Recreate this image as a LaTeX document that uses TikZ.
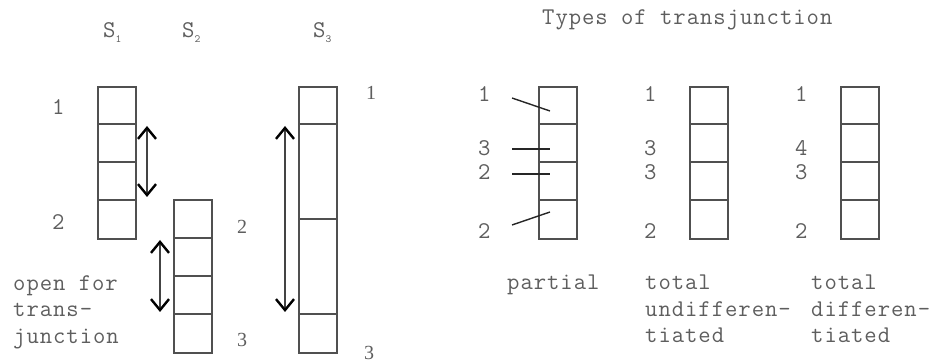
\documentclass[tikz,border=0pt]{standalone}
\usepackage{fontspec}
\setmonofont{Latin Modern Mono}[LetterSpace=4]
\newfontfamily\numserif{Liberation Serif}
\usetikzlibrary{arrows.meta}
\definecolor{ink}{HTML}{5E5E5E}
\definecolor{rule}{HTML}{505050}
\definecolor{shaft}{HTML}{444444}

\tikzset{
  colbox/.style={draw=rule, line width=1.9pt, minimum width=38pt, inner sep=0pt,
              anchor=north west, rectangle},
  divider/.style={draw=rule, line width=1.9pt},
  mono/.style={text=ink, inner sep=0pt, anchor=base west,
               font=\ttfamily\fontsize{24}{26}\selectfont},
  serifnum/.style={text=ink, inner sep=0pt, anchor=base west,
               font=\numserif\fontsize{20}{24}\selectfont},
  barb/.tip={Straight Barb[length=11pt,width=18pt,line width=2.4pt,black]},
  spanarrow/.style={draw=shaft, line width=1.6pt, barb-barb},
  tickline/.style={draw=black!85, line width=1.4pt},
}
\newcommand{\colsub}[1]{\raisebox{-5pt}{\fontsize{11}{11}\selectfont #1}}

\begin{document}
\begin{tikzpicture}[x=1pt,y=-1pt]
\useasboundingbox (0,0) rectangle (935,363);

% ---------- left part: three columns ----------
\node[mono] (h1) at (103,38) {S\colsub{1}};
\node[mono] (h2) at (182,38) {S\colsub{2}};
\node[mono] (h3) at (313,38) {S\colsub{3}};

% column S1: four equal cells
\node[colbox, minimum height=152pt] (s1) at (97,86) {};
\foreach \y in {124,162,200} \draw[divider] (97,\y) -- (135,\y);
% column S2: four equal cells, shifted down
\node[colbox, minimum height=153pt] (s2) at (173,199) {};
\foreach \y in {238,276,314} \draw[divider] (173,\y) -- (211,\y);
% column S3: long column
\node[colbox, minimum height=266pt] (s3) at (298,86) {};
\foreach \y in {124,219,314} \draw[divider] (298,\y) -- (336,\y);

\node[mono] (s1a) at (52,115) {1};
\node[mono] (s1b) at (52,230) {2};
\node[serifnum] (s2a) at (237,234) {2};
\node[serifnum] (s2b) at (237,347) {3};
\node[serifnum] (s3a) at (366,100) {1};
\node[serifnum] (s3b) at (364,360) {3};

% transjunction ranges
\coordinate (r1t) at (147,126); \coordinate (r1b) at (147,197);
\coordinate (r2t) at (160,240); \coordinate (r2b) at (160,312);
\coordinate (r3t) at (285,126); \coordinate (r3b) at (285,312);
\draw[spanarrow] (r1t) -- (r1b);
\draw[spanarrow] (r2t) -- (r2b);
\draw[spanarrow] (r3t) -- (r3b);

\node[mono] (o1) at (13,291) {open for};
\node[mono] (o2) at (13,317) {trans-};
\node[mono] (o3) at (13,344) {junction};

% ---------- right part: types of transjunction ----------
\node[mono] (title) at (542,25) {Types of transjunction};

\node[colbox, minimum height=152pt] (tp) at (538,86) {};
\foreach \y in {124,162,200} \draw[divider] (538,\y) -- (576,\y);
\node[colbox, minimum height=152pt] (tu) at (689,86) {};
\foreach \y in {124,162,200} \draw[divider] (689,\y) -- (727,\y);
\node[colbox, minimum height=152pt] (td) at (840,86) {};
\foreach \y in {124,162,200} \draw[divider] (840,\y) -- (878,\y);

% partial
\node[mono] (p1) at (478,102) {1};
\node[mono] (p2) at (478,156) {3};
\node[mono] (p3) at (478,180) {2};
\node[mono] (p4) at (478,239) {2};
\coordinate (k1a) at (512,98);  \coordinate (k1b) at (550,111);
\coordinate (k2a) at (512,149); \coordinate (k2b) at (550,149);
\coordinate (k3a) at (512,174); \coordinate (k3b) at (550,174);
\coordinate (k4a) at (512,225); \coordinate (k4b) at (550,212);
\draw[tickline] (k1a) -- (k1b);
\draw[tickline] (k2a) -- (k2b);
\draw[tickline] (k3a) -- (k3b);
\draw[tickline] (k4a) -- (k4b);

% total undifferentiated
\node[mono] (u1) at (644,102) {1};
\node[mono] (u2) at (644,156) {3};
\node[mono] (u3) at (644,180) {3};
\node[mono] (u4) at (644,239) {2};

% total differentiated
\node[mono] (d1) at (795,102) {1};
\node[mono] (d2) at (795,156) {4};
\node[mono] (d3) at (795,180) {3};
\node[mono] (d4) at (795,239) {2};

\node[mono] (c1) at (507,290) {partial};
\node[mono] (c2) at (645,290) {total};
\node[mono] (c3) at (645,317) {undifferen-};
\node[mono] (c4) at (645,343) {tiated};
\node[mono] (c5) at (811,290) {total};
\node[mono] (c6) at (811,317) {differen-};
\node[mono] (c7) at (811,343) {tiated};
\end{tikzpicture}
\end{document}
